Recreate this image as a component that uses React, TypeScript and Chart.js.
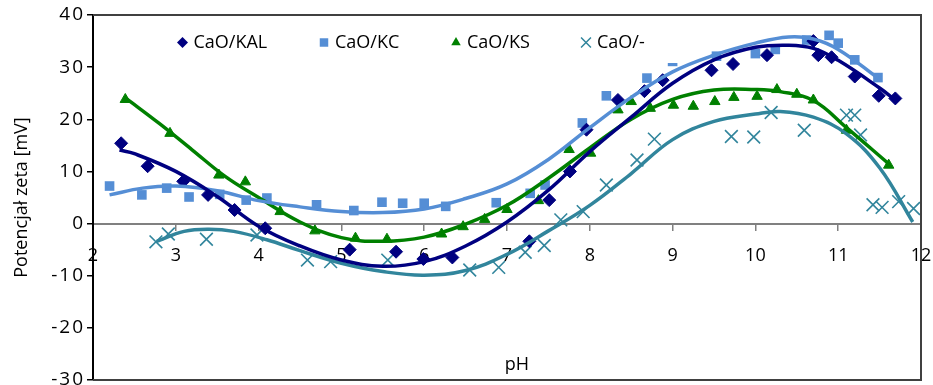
import React, { useEffect, useRef } from "react";
import { Chart, registerables } from "chart.js";

Chart.register(...registerables);

// ---- Data (pH, zeta potential mV) ----
const kalPH = [2.34, 2.66, 3.09, 3.39, 3.71, 4.08, 5.1, 5.66, 5.99, 6.34, 7.27, 7.51, 7.76, 7.96, 8.34, 8.66, 8.88, 9.47, 9.73, 10.14, 10.7, 10.76, 10.92, 11.2, 11.49, 11.69];
const kalMV = [15.4, 11.0, 8.1, 5.5, 2.6, -0.9, -5.0, -5.4, -6.8, -6.5, -3.4, 4.5, 10.0, 18.0, 23.7, 25.4, 27.5, 29.4, 30.6, 32.3, 35.0, 32.3, 31.9, 28.2, 24.5, 24.0];

const kcPH = [2.2, 2.59, 2.89, 3.16, 3.53, 3.85, 4.1, 4.7, 5.15, 5.49, 5.74, 6.0, 6.26, 6.87, 7.28, 7.46, 7.91, 8.2, 8.69, 9.0, 9.53, 10.0, 10.24, 10.62, 10.89, 11.0, 11.2, 11.48];
const kcMV = [7.2, 5.5, 6.8, 5.1, 5.6, 4.5, 4.9, 3.6, 2.5, 4.1, 3.9, 3.9, 3.3, 4.0, 5.8, 7.4, 19.3, 24.5, 27.9, 31.1, 32.1, 32.6, 33.4, 35.2, 36.1, 34.6, 31.4, 28.0];

const ksPH = [2.39, 2.93, 3.52, 3.84, 4.26, 4.68, 5.17, 5.55, 6.21, 6.47, 6.73, 7.0, 7.38, 7.75, 8.01, 8.34, 8.5, 8.73, 9.01, 9.25, 9.51, 9.74, 10.02, 10.26, 10.5, 10.7, 11.1, 11.61];
const ksMV = [23.8, 17.3, 9.3, 8.0, 2.3, -1.4, -2.8, -3.0, -2.0, -0.6, 0.8, 2.7, 4.4, 14.2, 13.5, 21.8, 23.4, 22.1, 22.7, 22.5, 23.4, 24.2, 24.4, 25.7, 24.8, 23.7, 17.9, 11.2];

const caoPH = [2.76, 2.91, 3.37, 3.98, 4.59, 4.87, 5.56, 6.55, 6.9, 7.22, 7.45, 7.65, 7.92, 8.2, 8.57, 8.78, 9.71, 9.98, 10.19, 10.59, 11.1, 11.2, 11.27, 11.42, 11.53, 11.73, 11.91];
const caoMV = [-3.5, -2.0, -3.0, -2.2, -7.0, -7.3, -7.0, -8.9, -8.4, -5.5, -4.2, 0.7, 2.3, 7.4, 12.2, 16.2, 16.7, 16.6, 21.3, 17.9, 20.8, 20.8, 17.0, 3.6, 3.1, 4.2, 2.9];

// ---- Trend lines ----
const kalTrendPH = [2.32, 2.5, 3.0, 3.5, 4.0, 4.5, 5.0, 5.5, 6.0, 6.5, 7.0, 7.5, 8.0, 8.5, 9.0, 9.5, 10.0, 10.4, 10.7, 11.0, 11.5, 11.69];
const kalTrendMV = [14.1, 13.4, 10.0, 5.2, -0.5, -4.3, -7.0, -8.2, -7.3, -4.3, 0.3, 6.4, 13.8, 20.4, 26.9, 31.4, 33.8, 34.2, 33.6, 31.3, 26.0, 23.7];

const kcTrendPH = [2.2, 2.6, 3.0, 3.5, 4.0, 4.5, 5.0, 5.5, 6.0, 6.5, 7.0, 7.5, 8.0, 8.5, 9.0, 9.5, 10.0, 10.4, 10.7, 11.0, 11.48];
const kcTrendMV = [5.5, 6.8, 7.2, 6.3, 4.4, 3.2, 2.3, 2.1, 2.8, 4.8, 7.6, 12.3, 18.4, 24.2, 29.1, 32.3, 34.6, 35.8, 35.4, 33.4, 27.9];

const ksTrendPH = [2.4, 2.8, 3.2, 3.6, 4.0, 4.5, 5.0, 5.5, 6.0, 6.5, 7.0, 7.5, 8.0, 8.5, 9.0, 9.5, 10.0, 10.3, 10.7, 11.1, 11.6];
const ksTrendMV = [24.0, 19.2, 14.1, 9.0, 5.0, 0.3, -2.7, -3.4, -2.6, -0.1, 3.5, 8.7, 14.5, 20.0, 23.8, 25.6, 25.7, 25.3, 23.6, 18.4, 11.6];

const caoTrendPH = [2.77, 3.1, 3.4, 3.7, 4.1, 4.5, 5.0, 5.5, 6.0, 6.5, 7.0, 7.5, 8.0, 8.5, 9.0, 9.5, 10.0, 10.3, 10.7, 11.1, 11.5, 11.9];
const caoTrendMV = [-3.4, -1.5, -1.1, -1.5, -3.1, -5.2, -7.6, -9.2, -9.9, -9.0, -5.9, -1.4, 3.5, 9.6, 16.1, 19.6, 21.0, 21.5, 20.4, 17.2, 10.7, 0.3];

const seriesLabels = ["CaO/KAL", "CaO/KC", "CaO/KS", "CaO/-"];
const xMin = 2, xMax = 12, xStep = 1;
const yMin = -30, yMax = 40, yStep = 10;
const xTitle = "pH";
const yTitle = "Potencjał zeta [mV]";

const NAVY = "#000080";
const LIGHT = "#558ED5";
const GREEN = "#008000";
const TEAL = "#31859C";
const FONT = "'Open Sans', sans-serif";

const pts = (xs: number[], ys: number[]) => xs.map((x, i) => ({ x, y: ys[i] }));

export default function App() {
  const ref = useRef<HTMLCanvasElement | null>(null);

  useEffect(() => {
    if (!ref.current) return;

    const legendItems = [
      { label: seriesLabels[0], style: "rectRot", color: NAVY, r: 5.5, dx: 89.5 },
      { label: seriesLabels[1], style: "rect", color: LIGHT, r: 6, dx: 231 },
      { label: seriesLabels[2], style: "triangle", color: GREEN, r: 5.5, dx: 363 },
      { label: seriesLabels[3], style: "crossRot", color: TEAL, r: 7, dx: 493 },
    ];

    const drawMarker = (ctx: CanvasRenderingContext2D, style: string, x: number, y: number, r: number, color: string) => {
      ctx.save();
      ctx.fillStyle = color;
      ctx.strokeStyle = color;
      ctx.lineWidth = 1.5;
      ctx.beginPath();
      if (style === "rectRot") {
        ctx.moveTo(x, y - r); ctx.lineTo(x + r, y); ctx.lineTo(x, y + r); ctx.lineTo(x - r, y); ctx.closePath(); ctx.fill();
      } else if (style === "rect") {
        const s = r * Math.SQRT1_2;
        ctx.rect(x - s, y - s, 2 * s, 2 * s); ctx.fill();
      } else if (style === "triangle") {
        for (let k = 0; k < 3; k++) {
          const a = (k * 2 * Math.PI) / 3;
          const px = x + Math.sin(a) * r, py = y - Math.cos(a) * r;
          if (k === 0) ctx.moveTo(px, py); else ctx.lineTo(px, py);
        }
        ctx.closePath(); ctx.fill();
      } else {
        const d = r * Math.SQRT1_2;
        ctx.moveTo(x - d, y - d); ctx.lineTo(x + d, y + d);
        ctx.moveTo(x + d, y - d); ctx.lineTo(x - d, y + d); ctx.stroke();
      }
      ctx.restore();
    };

    const decor = {
      id: "decor",
      afterDatasetsDraw(chart: any) {
        const { ctx, chartArea: a } = chart;
        ctx.save();
        // legend box (white, covers data)
        ctx.fillStyle = "#ffffff";
        ctx.fillRect(a.left + 70, a.top + 7, 520, 41);
        const ly = a.top + 27.5;
        ctx.font = `18px ${FONT}`;
        ctx.fillStyle = "#000";
        ctx.textBaseline = "middle";
        ctx.textAlign = "left";
        legendItems.forEach((it) => {
          drawMarker(ctx, it.style, a.left + it.dx, ly, it.r, it.color);
          ctx.fillStyle = "#000";
          ctx.fillText(it.label, a.left + it.dx + 11, ly);
        });
        // x title inside plot
        ctx.textAlign = "center";
        ctx.fillText(xTitle, (a.left + a.right) / 2 + 10, a.bottom - 15);
        // plot-area border
        ctx.strokeStyle = "#404040";
        ctx.lineWidth = 2;
        ctx.beginPath();
        ctx.moveTo(a.left, a.top);
        ctx.lineTo(a.right, a.top);
        ctx.lineTo(a.right, a.bottom);
        ctx.lineTo(a.left, a.bottom);
        ctx.stroke();
        ctx.restore();
      },
    };

    const trend = (xs: number[], ys: number[], color: string) => ({
      data: pts(xs, ys),
      showLine: true,
      borderColor: color,
      borderWidth: 3.5,
      pointRadius: 0,
      pointHoverRadius: 0,
      tension: 0.4,
      fill: false,
    });

    const chart = new Chart(ref.current, {
      type: "scatter",
      data: {
        datasets: [
          trend(kalTrendPH, kalTrendMV, NAVY),
          trend(kcTrendPH, kcTrendMV, LIGHT),
          trend(ksTrendPH, ksTrendMV, GREEN),
          trend(caoTrendPH, caoTrendMV, TEAL),
          { label: seriesLabels[0], data: pts(kalPH, kalMV), pointStyle: "rectRot", pointRadius: 6.5, backgroundColor: NAVY, borderColor: NAVY, borderWidth: 1 },
          { label: seriesLabels[1], data: pts(kcPH, kcMV), pointStyle: "rect", pointRadius: 6.8, backgroundColor: LIGHT, borderColor: LIGHT, borderWidth: 0 },
          { label: seriesLabels[2], data: pts(ksPH, ksMV), pointStyle: "triangle", pointRadius: 6, backgroundColor: GREEN, borderColor: GREEN, borderWidth: 1 },
          { label: seriesLabels[3], data: pts(caoPH, caoMV), pointStyle: "crossRot", pointRadius: 9, backgroundColor: TEAL, borderColor: TEAL, borderWidth: 1.6 },
        ] as any,
      },
      options: {
        animation: false,
        responsive: false,
        maintainAspectRatio: false,
        layout: { padding: { top: 15, right: 12, bottom: 20, left: 0 } },
        plugins: { legend: { display: false }, tooltip: { enabled: false } },
        scales: {
          x: {
            type: "linear",
            min: xMin,
            max: xMax,
            position: { y: 0 } as any,
            ticks: { stepSize: xStep, color: "#000", font: { family: FONT, size: 18 }, padding: 16, maxRotation: 0, autoSkip: false },
            grid: { drawOnChartArea: false, drawTicks: true, tickLength: 6, color: "#808080", lineWidth: 1.5 },
            border: { color: "#808080", width: 2 },
            afterFit: (s: any) => { s.paddingLeft = 0; s.paddingRight = 0; },
          },
          y: {
            type: "linear",
            position: "left",
            min: yMin,
            max: yMax,
            ticks: { stepSize: yStep, color: "#000", font: { family: FONT, size: 19 }, padding: 2 },
            grid: { drawOnChartArea: false, drawTicks: true, tickLength: 6, color: "#000", lineWidth: 1.5 },
            border: { color: "#000", width: 2 },
            title: { display: true, text: yTitle, color: "#000", font: { family: FONT, size: 18 }, padding: { top: 11, bottom: 0 } },
            afterFit: (s: any) => { s.width = 93; },
          },
        },
      } as any,
      plugins: [decor],
    });

    // slightly wider letter spacing for the y tick labels, as in the reference
    const yScale: any = chart.scales.y;
    const origDrawLabels = yScale.drawLabels.bind(yScale);
    yScale.drawLabels = (area: any) => {
      const c: any = chart.ctx;
      c.save();
      c.letterSpacing = "2px";
      origDrawLabels(area);
      c.restore();
    };
    chart.draw();

    return () => chart.destroy();
  }, []);

  return (
    <div style={{ position: "fixed", left: 0, top: 0, width: 933, height: 385, overflow: "hidden", background: "#fff" }}>
      <canvas ref={ref} width={933} height={400} style={{ width: 933, height: 400, display: "block" }} />
    </div>
  );
}
